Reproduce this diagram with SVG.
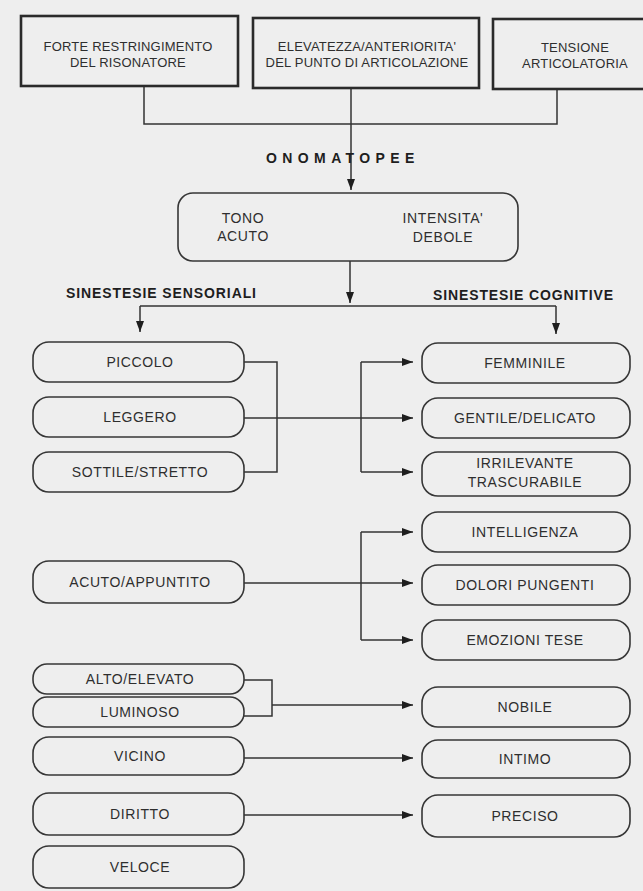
<svg xmlns="http://www.w3.org/2000/svg" width="643" height="891" viewBox="0 0 643 891">
  <style>
    .bg { fill: #eeeeee; }
    .src { fill: none; stroke: #2a2a2a; stroke-width: 2.6; }
    .node { fill: none; stroke: #363636; stroke-width: 1.6; }
    .lbl { font-family: "Liberation Sans", Arial, sans-serif; font-size: 14px; fill: #2e2e2e; text-anchor: middle; letter-spacing: 0.6px; }
    .lbl-sm { font-family: "Liberation Sans", Arial, sans-serif; font-size: 13px; fill: #2e2e2e; text-anchor: middle; letter-spacing: 0.2px; }
    .head { font-family: "Liberation Sans", Arial, sans-serif; font-size: 14px; font-weight: bold; fill: #1e1e1e; }
    .wire { fill: none; stroke: #333333; stroke-width: 1.5; }
  </style>
  <defs>
    <marker id="arrow" viewBox="0 0 11 8" refX="11" refY="4" markerWidth="11" markerHeight="8" markerUnits="userSpaceOnUse" orient="auto">
      <path d="M0,0 L11,4 L0,8 Z" fill="#1e1e1e"/>
    </marker>
  </defs>

  <rect class="bg" x="0" y="0" width="643" height="891"/>

  <!-- connectors -->
  <g id="connectors">
    <!-- articulatory sources merge into one line -->
    <path class="wire" d="M144,86 V124 H557 V89"/>
    <path class="wire" d="M351,88 V190" marker-end="url(#arrow)"/>
    <!-- split into sensorial / cognitive -->
    <path class="wire" d="M350,261 V303" marker-end="url(#arrow)"/>
    <path class="wire" d="M140,306 H556"/>
    <path class="wire" d="M140,306 V332" marker-end="url(#arrow)"/>
    <path class="wire" d="M556,306 V334" marker-end="url(#arrow)"/>

    <!-- piccolo / leggero / sottile -->
    <path class="wire" d="M244,362 H277 V472 H244"/>
    <path class="wire" d="M244,418 H413" marker-end="url(#arrow)"/>
    <path class="wire" d="M361,362 V472"/>
    <path class="wire" d="M361,362 H413" marker-end="url(#arrow)"/>
    <path class="wire" d="M361,472 H413" marker-end="url(#arrow)"/>

    <!-- acuto / appuntito -->
    <path class="wire" d="M244,583 H413" marker-end="url(#arrow)"/>
    <path class="wire" d="M361,532 V640"/>
    <path class="wire" d="M361,532 H413" marker-end="url(#arrow)"/>
    <path class="wire" d="M361,640 H413" marker-end="url(#arrow)"/>

    <!-- alto / luminoso -->
    <path class="wire" d="M244,680 H272 V716 H244"/>
    <path class="wire" d="M272,705 H413" marker-end="url(#arrow)"/>

    <!-- vicino -> intimo -->
    <line class="wire" x1="244" y1="758" x2="413" y2="758" marker-end="url(#arrow)"/>
    <!-- diritto -> preciso -->
    <line class="wire" x1="244" y1="815" x2="413" y2="815" marker-end="url(#arrow)"/>
  </g>

  <!-- source boxes -->
  <g id="forte-restringimento">
    <rect class="src" x="21" y="16" width="217" height="70"/>
    <text class="lbl-sm" x="128" y="51">FORTE RESTRINGIMENTO</text>
    <text class="lbl-sm" x="128" y="67">DEL RISONATORE</text>
  </g>
  <g id="elevatezza">
    <rect class="src" x="253" y="18" width="226" height="70"/>
    <text class="lbl-sm" x="367" y="51">ELEVATEZZA/ANTERIORITA'</text>
    <text class="lbl-sm" x="367" y="67">DEL PUNTO DI ARTICOLAZIONE</text>
  </g>
  <g id="tensione">
    <rect class="src" x="493" y="19" width="160" height="70"/>
    <text class="lbl-sm" x="575" y="52">TENSIONE</text>
    <text class="lbl-sm" x="575" y="68">ARTICOLATORIA</text>
  </g>

  <g id="onomatopee">
    <text class="head" x="266" y="163" style="letter-spacing:5.4px">ONOMATOPEE</text>
  </g>

  <g id="tono-intensita">
    <rect class="node" x="178" y="193" width="340" height="68" rx="15"/>
    <text class="lbl" x="243" y="223">TONO</text>
    <text class="lbl" x="243" y="241">ACUTO</text>
    <text class="lbl" x="443" y="223">INTENSITA'</text>
    <text class="lbl" x="443" y="242">DEBOLE</text>
  </g>

  <g id="sinestesie-sensoriali">
    <text class="head" x="66" y="298" textLength="190" lengthAdjust="spacing">SINESTESIE SENSORIALI</text>
  </g>
  <g id="sinestesie-cognitive">
    <text class="head" x="433" y="300" textLength="180" lengthAdjust="spacing">SINESTESIE COGNITIVE</text>
  </g>

  <!-- sensorial column -->
  <g id="piccolo">
    <rect class="node" x="33" y="342" width="211" height="40" rx="16"/>
    <text class="lbl" x="140" y="367">PICCOLO</text>
  </g>
  <g id="leggero">
    <rect class="node" x="33" y="397" width="211" height="40" rx="16"/>
    <text class="lbl" x="140" y="422">LEGGERO</text>
  </g>
  <g id="sottile-stretto">
    <rect class="node" x="33" y="452" width="211" height="40" rx="16"/>
    <text class="lbl" x="140" y="477">SOTTILE/STRETTO</text>
  </g>
  <g id="acuto-appuntito">
    <rect class="node" x="33" y="561" width="211" height="42" rx="16"/>
    <text class="lbl" x="140" y="587">ACUTO/APPUNTITO</text>
  </g>
  <g id="alto-elevato">
    <rect class="node" x="33" y="664" width="211" height="30" rx="14"/>
    <text class="lbl" x="140" y="684">ALTO/ELEVATO</text>
  </g>
  <g id="luminoso">
    <rect class="node" x="33" y="697" width="211" height="30" rx="14"/>
    <text class="lbl" x="140" y="717">LUMINOSO</text>
  </g>
  <g id="vicino">
    <rect class="node" x="33" y="737" width="211" height="38" rx="16"/>
    <text class="lbl" x="140" y="761">VICINO</text>
  </g>
  <g id="diritto">
    <rect class="node" x="33" y="793" width="211" height="42" rx="16"/>
    <text class="lbl" x="140" y="819">DIRITTO</text>
  </g>
  <g id="veloce">
    <rect class="node" x="33" y="846" width="211" height="42" rx="16"/>
    <text class="lbl" x="140" y="872">VELOCE</text>
  </g>

  <!-- cognitive column -->
  <g id="femminile">
    <rect class="node" x="422" y="343" width="208" height="40" rx="16"/>
    <text class="lbl" x="525" y="368">FEMMINILE</text>
  </g>
  <g id="gentile-delicato">
    <rect class="node" x="422" y="398" width="208" height="40" rx="16"/>
    <text class="lbl" x="525" y="423">GENTILE/DELICATO</text>
  </g>
  <g id="irrilevante">
    <rect class="node" x="422" y="452" width="208" height="44" rx="16"/>
    <text class="lbl" x="525" y="468">IRRILEVANTE</text>
    <text class="lbl" x="525" y="487">TRASCURABILE</text>
  </g>
  <g id="intelligenza">
    <rect class="node" x="422" y="512" width="208" height="40" rx="16"/>
    <text class="lbl" x="525" y="537">INTELLIGENZA</text>
  </g>
  <g id="dolori-pungenti">
    <rect class="node" x="422" y="565" width="208" height="40" rx="16"/>
    <text class="lbl" x="525" y="590">DOLORI PUNGENTI</text>
  </g>
  <g id="emozioni-tese">
    <rect class="node" x="422" y="620" width="208" height="40" rx="16"/>
    <text class="lbl" x="525" y="645">EMOZIONI TESE</text>
  </g>
  <g id="nobile">
    <rect class="node" x="422" y="687" width="208" height="40" rx="16"/>
    <text class="lbl" x="525" y="712">NOBILE</text>
  </g>
  <g id="intimo">
    <rect class="node" x="422" y="740" width="208" height="38" rx="16"/>
    <text class="lbl" x="525" y="764">INTIMO</text>
  </g>
  <g id="preciso">
    <rect class="node" x="422" y="795" width="208" height="42" rx="16"/>
    <text class="lbl" x="525" y="821">PRECISO</text>
  </g>
</svg>
